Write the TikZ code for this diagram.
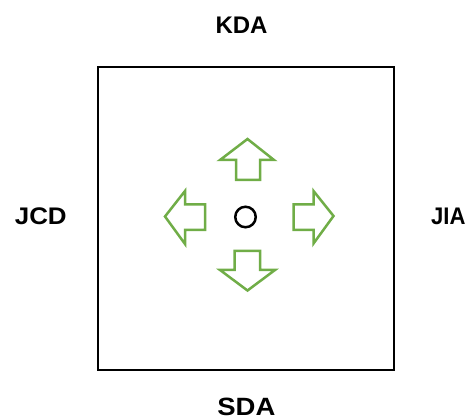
\documentclass[tikz,border=0pt]{standalone}
\usepackage{fontspec}
\setmainfont{Liberation Sans}
\definecolor{arrowgreen}{HTML}{70AD47}
\begin{document}
\begin{tikzpicture}[x=1pt,y=-1pt,
  lbl/.style={font=\fontsize{24}{26}\selectfont\bfseries, inner sep=0pt, anchor=base},
  garrow/.style={draw=arrowgreen, line width=2.5pt, line join=miter, fill=white}]
\useasboundingbox (0,0) rectangle (471,419);
\node[draw, line width=2pt, minimum width=296pt, minimum height=302pt, inner sep=0pt] (box) at (246,218.5) {};
\node[lbl] (kda) at (241.5,34) {KDA};
\node[lbl, xscale=1.08] (jcd) at (40.8,225) {JCD};
\node[lbl, xscale=0.92] (jia) at (448.3,225) {JIA};
\node[lbl, font=\fontsize{25}{27}\selectfont\bfseries, xscale=1.1] (sda) at (246.4,415.5) {SDA};
\node[draw, circle, line width=2.5pt, minimum size=20.5pt, inner sep=0pt] (o) at (245.5,217) {};
% up arrow
\draw[garrow] (236,180) -- (236,160) -- (220,160) -- (247.5,139) -- (274,160) -- (260,160) -- (260,180) -- cycle;
% down arrow
\draw[garrow] (234.5,251) -- (234.5,270) -- (220,270) -- (247.5,290.5) -- (275,270) -- (260,270) -- (260,251) -- cycle;
% left arrow
\draw[garrow] (205,204.5) -- (185,204.5) -- (185,191) -- (165,216.5) -- (185,244) -- (185,230) -- (205,230) -- cycle;
% right arrow
\draw[garrow] (293.5,204.5) -- (313.5,204.5) -- (313.5,191) -- (333.5,216) -- (313.5,243.5) -- (313.5,230) -- (293.5,230) -- cycle;
\end{tikzpicture}
\end{document}
